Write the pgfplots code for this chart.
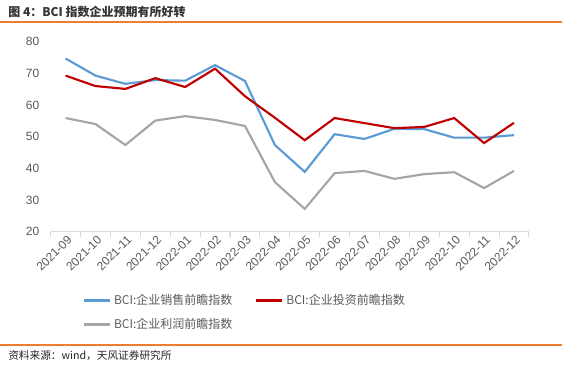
\documentclass[border=0pt]{standalone}
\usepackage{pgfplots}
\pgfplotsset{compat=1.18}
\usepackage{fontspec}
\setmainfont{Liberation Sans}
\newfontfamily\cjk{Noto Sans CJK SC}
\definecolor{sblue}{HTML}{5B9BD5}
\definecolor{sred}{HTML}{C00000}
\definecolor{sgray}{HTML}{A5A5A5}
\definecolor{orline}{HTML}{ED7D31}
\definecolor{txtgray}{HTML}{595959}
\definecolor{axgray}{HTML}{D9D9D9}
\pgfplotstableread{
x sales invest profit
0 74.7 69.3 55.9
1 69.3 66.0 54.0
2 66.7 65.1 47.4
3 67.9 68.5 55.1
4 67.7 65.7 56.5
5 72.6 71.5 55.3
6 67.6 62.8 53.4
7 47.4 56.0 35.7
8 38.9 48.9 27.2
9 50.8 55.9 38.5
10 49.3 54.3 39.2
11 52.5 52.7 36.7
12 52.4 53.1 38.2
13 49.7 55.9 38.8
14 49.7 48.0 33.8
15 50.5 54.4 39.2
}\datatable
\begin{document}
\begin{tikzpicture}
\path[use as bounding box] (0,0) rectangle (423.75pt,274.5pt);
% title
\node[anchor=west,inner sep=0pt,text=black!80] at (6pt,265.5pt) {\cjk\bfseries\fontsize{9}{11}\selectfont 图 4：BCI 指数企业预期有所好转};
\draw[orline,line width=1.2pt] (0,258pt) -- (421.5pt,258pt);
% footer
\draw[orline,line width=0.9pt] (0,15.75pt) -- (421.5pt,15.75pt);
\node[anchor=west,inner sep=0pt,text=black!85] at (6pt,8pt) {\cjk\fontsize{8}{10}\selectfont 资料来源：wind，天风证券研究所};
\begin{axis}[
  at={(38pt,100.7pt)}, anchor=south west,
  width=358.7pt, height=142.5pt, scale only axis,
  xmin=-0.5, xmax=15.5, ymin=20, ymax=80,
  ytick={20,30,...,80},
  xtick={0,...,15},
  xticklabels={2021-09,2021-10,2021-11,2021-12,2022-01,2022-02,2022-03,2022-04,2022-05,2022-06,2022-07,2022-08,2022-09,2022-10,2022-11,2022-12},
  minor xtick={-0.5,0.5,...,15.5},
  major tick length=0pt,
  minor tick length=4pt,
  tick align=outside,
  minor tick style={axgray, line width=0.8pt},
  axis lines*=left,
  separate axis lines,
  x axis line style={axgray, line width=0.8pt, -},
  y axis line style={draw=none, -},
  yticklabel style={text=txtgray, font=\fontsize{9}{11}\selectfont, xshift=-5pt},
  xticklabel style={text=txtgray, font=\fontsize{9}{11}\selectfont, rotate=45, anchor=north east, inner sep=1pt, yshift=-1pt},
  /pgf/number format/assume math mode=true,
  clip=false,
  legend columns=2,
  legend cell align=left,
  legend style={draw=none, fill=none, at={(0.058,-0.30)}, anchor=north west,
    font=\cjk\fontsize{9}{11}\selectfont, text=txtgray,
    /tikz/every even column/.append style={column sep=15pt},
    row sep=5pt},
  legend image code/.code={\draw[#1, line width=2pt] (0pt,0pt) -- (19.5pt,0pt);},
]
\addplot[sblue, line width=1.6pt] table[x=x,y=sales] {\datatable};
\addlegendentry{BCI:企业销售前瞻指数}
\addplot[sred, line width=1.6pt] table[x=x,y=invest] {\datatable};
\addlegendentry{BCI:企业投资前瞻指数}
\addplot[sgray, line width=1.6pt] table[x=x,y=profit] {\datatable};
\addlegendentry{BCI:企业利润前瞻指数}
\end{axis}
\end{tikzpicture}
\end{document}
